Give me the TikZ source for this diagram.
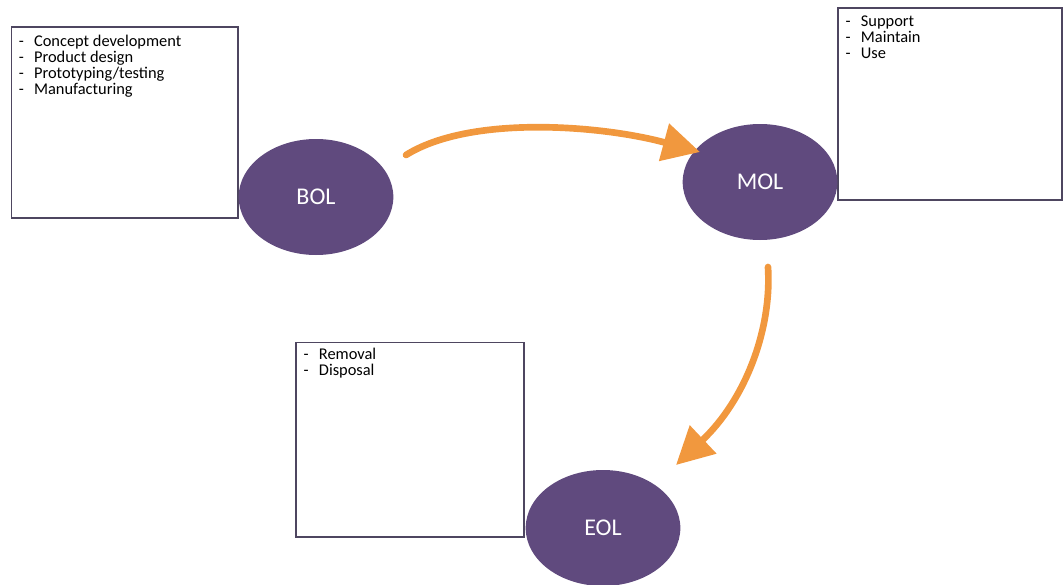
\documentclass[tikz,border=0pt]{standalone}
\usepackage{fontspec}
\setmainfont{Carlito}
\usetikzlibrary{shapes,arrows.meta,positioning,shadows}
\definecolor{lifepurple}{RGB}{96,74,126}
\definecolor{lifeorange}{RGB}{241,152,62}
\definecolor{boxedge}{RGB}{78,70,96}
\newcommand{\listline}[1]{\makebox[11.5pt][l]{-}#1}
\begin{document}
\begin{tikzpicture}[x=0.75pt,y=-0.75pt,
  phase/.style={ellipse,fill=lifepurple,minimum width=116pt,minimum height=87pt,text=white,font=\fontsize{18}{20}\selectfont},
  notebox/.style={rectangle,draw=boxedge,line width=1pt,fill=white,drop shadow={opacity=0.35,shadow xshift=1pt,shadow yshift=-1pt}},
  listtext/.style={align=left,inner sep=0pt,anchor=north west,font=\fontsize{12.3}{12}\selectfont},
  flow/.style={draw=lifeorange,line width=5pt,line cap=round,-{Triangle[width=28pt,length=28pt]}}]
\useasboundingbox (0,0) rectangle (1063,585);
% boxes
\node[notebox,minimum width=170pt,minimum height=143pt] (bolbox) at (124.5,122.5) {};
\node[notebox,minimum width=168pt,minimum height=144pt] (molbox) at (950,104) {};
\node[notebox,minimum width=171pt,minimum height=146pt] (eolbox) at (410,439.5) {};
\node[listtext,below right=6pt and 6pt of bolbox.north west] (boltext)
  {\listline{Concept development}\\\listline{Product design}\\\listline{Prototyping/testing}\\\listline{Manufacturing}};
\node[listtext,below right=6pt and 6pt of molbox.north west] (moltext)
  {\listline{Support}\\\listline{Maintain}\\\listline{Use}};
\node[listtext,below right=5pt and 6pt of eolbox.north west] (eoltext)
  {\listline{Removal}\\\listline{Disposal}};
% phases
\node[phase] (bol) at (316,197) {BOL};
\node[phase] (mol) at (760,182) {MOL};
\node[phase] (eol) at (603,528) {EOL};
% arrows
\coordinate (a1) at (406,155);
\coordinate (a2) at (700,152);
\coordinate (b1) at (768,267);
\coordinate (b2) at (676,465);
\draw[flow] (a1) .. controls (470,115) and (600,125) .. (a2);
\draw[flow] (b1) .. controls (772,330) and (745,400) .. (b2);
\end{tikzpicture}
\end{document}
